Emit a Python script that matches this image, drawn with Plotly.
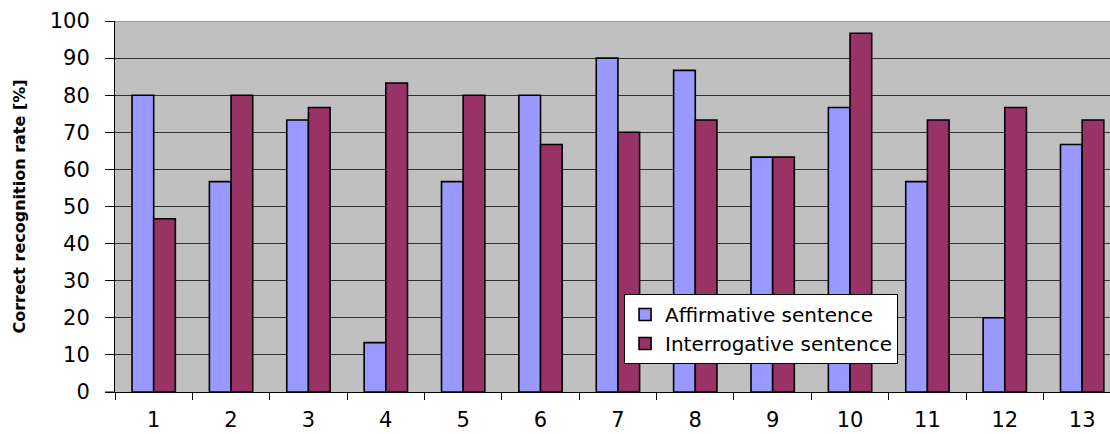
import plotly.graph_objects as go

# Speakers / test items along the x axis
categories = [str(i) for i in range(1, 14)]

# Correct recognition rate [%] per sentence type
affirmative = [80.0, 56.7, 73.3, 13.3, 56.7, 80.0, 90.0, 86.7, 63.3, 76.7, 56.7, 20.0, 66.7]
interrogative = [46.7, 80.0, 76.7, 83.3, 80.0, 66.7, 70.0, 73.3, 63.3, 96.7, 73.3, 76.7, 73.3]

y_ticks = list(range(0, 101, 10))

FONT = "DejaVu Sans"

fig = go.Figure()
fig.add_trace(go.Bar(
    x=categories, y=affirmative, name="Affirmative sentence",
    marker=dict(color="#9999FF", line=dict(color="#000000", width=1.6)),
))
fig.add_trace(go.Bar(
    x=categories, y=interrogative, name="Interrogative sentence",
    marker=dict(color="#993366", line=dict(color="#000000", width=1.6)),
))

fig.update_layout(
    width=1110, height=434,
    margin=dict(l=115, r=0, t=21, b=42),
    paper_bgcolor="#FFFFFF",
    plot_bgcolor="#C0C0C0",
    barmode="group",
    bargap=0.44,
    bargroupgap=0,
    font=dict(family=FONT, size=21, color="#000000"),
    showlegend=True,
    legend=dict(
        x=0.5116, y=0.264, xanchor="left", yanchor="top",
        bgcolor="#FFFFFF", bordercolor="#000000", borderwidth=1,
        font=dict(family=FONT, size=20, color="#000000"),
        itemwidth=30, tracegroupgap=0,
    ),
    xaxis=dict(
        type="category",
        range=[-0.5, 12.36],
        automargin=False,
        showgrid=False,
        showline=True, linecolor="#000000", linewidth=1,
        ticks="outside", tickson="boundaries", ticklen=7, tickcolor="#000000",
        ticklabelstandoff=9,
        tickfont=dict(family=FONT, size=21),
        zeroline=False,
    ),
    yaxis=dict(
        range=[0, 100],
        automargin=False,
        tickvals=y_ticks,
        showgrid=True, gridcolor="#303030", gridwidth=1,
        showline=True, linecolor="#000000", linewidth=1,
        ticks="outside", ticklen=9, tickcolor="#000000",
        ticklabelstandoff=11,
        tickfont=dict(family=FONT, size=21),
        zeroline=False,
        title=dict(
            text="<b>Correct recognition rate [%]</b>",
            font=dict(family=FONT, size=16),
            standoff=20,
        ),
    ),
)

# Lighter border along the top of the plot area
fig.add_shape(type="line", xref="paper", yref="y", x0=0, x1=1, y0=100, y1=100,
              line=dict(color="#999999", width=2), layer="above")
# Category axis line runs slightly past the value axis on the left
fig.add_shape(type="line", xref="paper", yref="y", x0=-10 / 995, x1=0, y0=0, y1=0,
              line=dict(color="#000000", width=1), layer="above")

fig.write_html("out.html")
